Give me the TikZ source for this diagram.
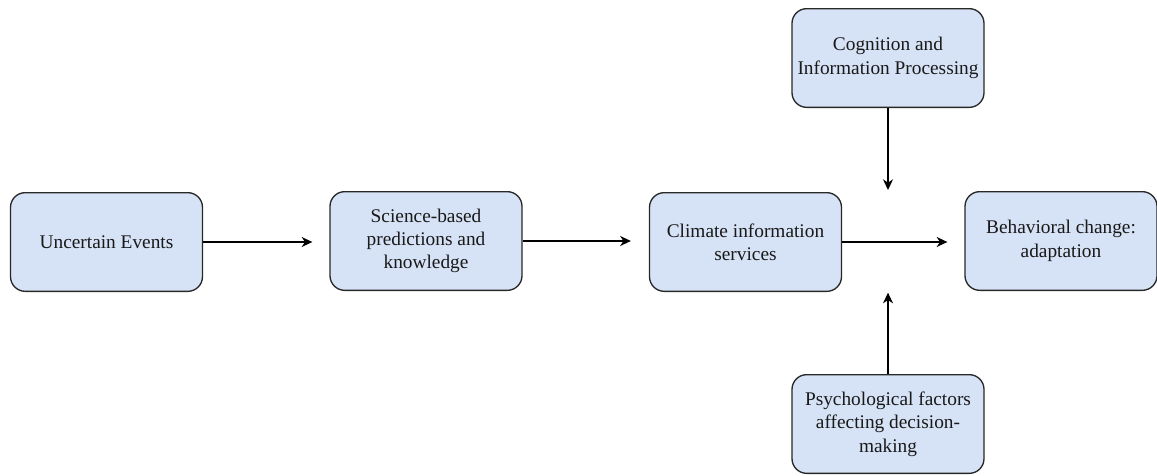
\documentclass[tikz,border=0pt]{standalone}
\usepackage{fontspec}
\setmainfont{Liberation Serif}
\usetikzlibrary{arrows.meta}

\definecolor{boxfill}{RGB}{214,226,245}
\definecolor{boxline}{RGB}{40,40,40}

\tikzset{every picture/.style={line width=0.75pt}}
\tikzset{
  box/.style={draw=boxline, fill=boxfill, rounded corners=11pt, line width=1pt,
    minimum width=144pt, minimum height=74pt, align=center, text=black!90,
    font=\fontsize{14.5}{17.5}\selectfont},
  flow/.style={draw=black, line width=1pt, -{Stealth[length=8pt,width=7.5pt,inset=2.5pt]}}
}

\begin{document}
\begin{tikzpicture}[x=0.75pt,y=0.75pt,yscale=-1,xscale=1]
	\useasboundingbox (0,0) rectangle (1157,475);

	% Boxes
	\node[box] (unc) at (106.5,242) {Uncertain Events};
	\node[box] (sci) at (426,241) {Science-based\\predictions and\\knowledge};
	\node[box] (cis) at (745.5,242) {Climate information\\services};
	\node[box] (beh) at (1061,241) {Behavioral change:\\adaptation};
	\node[box] (cog) at (888,58) {Cognition and\\Information Processing};
	\node[box] (psy) at (888,424) {Psychological factors\\affecting decision-\\making};
	% junction on the main line
	\coordinate (jn) at (888,242);

	% Connectors
	\draw[flow, shorten >=12.75pt] (unc.east) -- (unc.east -| sci.west);
	\draw[flow, shorten >=13.5pt] (sci.east) -- (sci.east -| cis.west);
	\draw[flow, shorten >=12.75pt] (cis.east) -- (cis.east -| beh.west);
	\draw[flow, shorten >=39pt] (cog.south) -- (jn);
	\draw[flow, shorten >=38pt] (psy.north) -- (jn);

\end{tikzpicture}
\end{document}
